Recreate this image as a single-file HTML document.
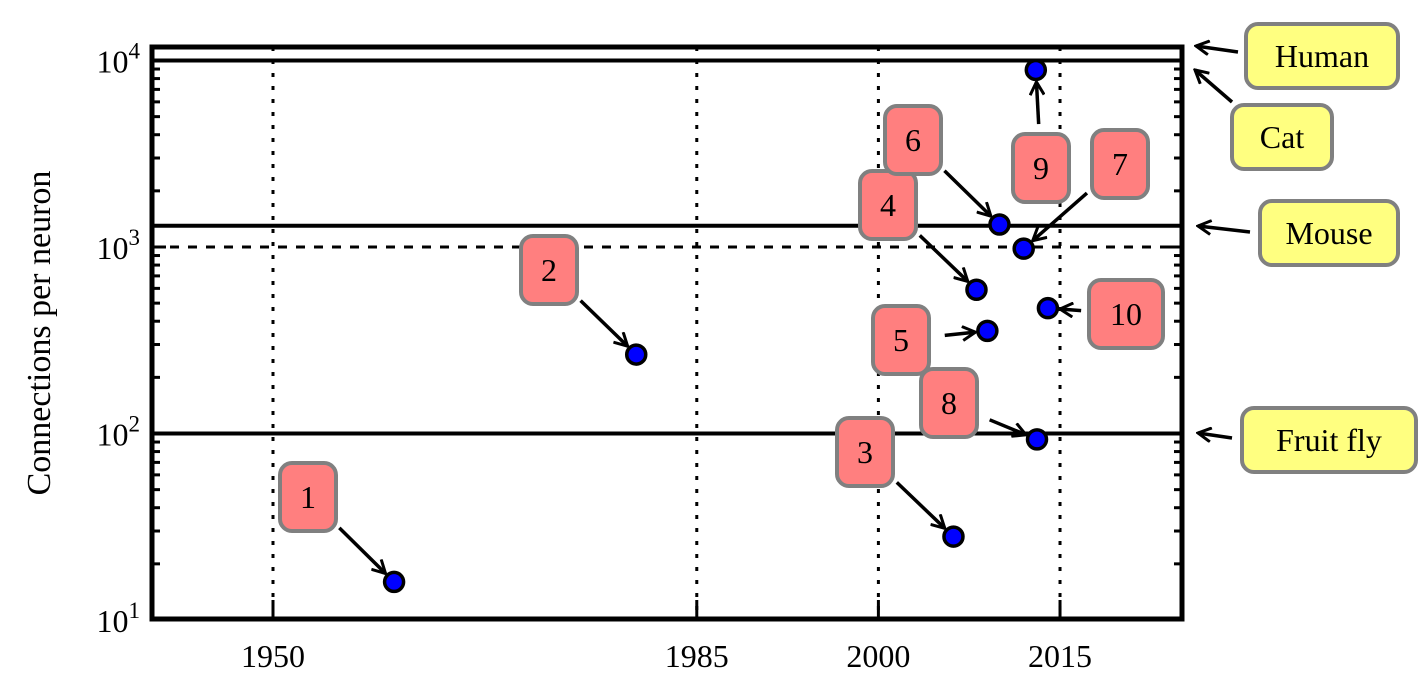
<!DOCTYPE html>
<html><head><meta charset="utf-8"><style>
body{margin:0;background:#fff;}
svg{display:block;font-family:"Liberation Serif","DejaVu Serif",serif;}
</style></head><body>
<svg id="chart" width="1427" height="686" viewBox="0 0 1427 686">
<defs><marker id="ah" viewBox="0 0 16 16" refX="14" refY="8" markerWidth="16" markerHeight="16" markerUnits="userSpaceOnUse" orient="auto"><path d="M1,1 L14,8 L1,15" fill="none" stroke="#000" stroke-width="3"/></marker></defs>
<g id="grid"></g><g id="ticks"></g><g id="hlines"></g><g id="annots"></g><g id="points"></g>
<rect x="152" y="47" width="1030" height="572" fill="none" stroke="#000" stroke-width="5"/>
<text transform="translate(50,333) rotate(-90)" text-anchor="middle" font-size="34">Connections per neuron</text>
<g id="labels"></g>
</svg>
<script>
const years = [1960, 1980, 2006.2, 2008.1, 2009, 2010, 2012, 2013.1, 2013, 2014];
const conns = [16, 265, 28, 590, 355, 1320, 980, 93, 8900, 470];
const pointIds = ["1","2","3","4","5","6","7","8","9","10"];
const labelPos = [[308,497],[549,270],[865,452],[888,205],[901,340],[913,140],[1120,164],[949,403],[1041,168],[1126,314]];
const xTicks = [1950, 1985, 2000, 2015];
const yTicks = [10, 100, 1000, 10000];
const yTickLabels = ["1", "2", "3", "4"];
const species = ["Human", "Cat", "Mouse", "Fruit fly"];
const speciesVals = [12000, 10000, 1300, 100];
const NS="http://www.w3.org/2000/svg";
const X0=1950,PX0=273,PPY=12.108;
function sx(y){return PX0+(y-X0)*PPY;}
function sy(v){return 620-(Math.log10(v)-1)*186.5;}
function mk(tag,attrs,parent){const e=document.createElementNS(NS,tag);for(const k in attrs)e.setAttribute(k,attrs[k]);parent.appendChild(e);return e;}
const grid=document.getElementById('grid'),ticks=document.getElementById('ticks'),hl=document.getElementById('hlines'),an=document.getElementById('annots'),pts=document.getElementById('points'),lab=document.getElementById('labels');
xTicks.forEach(t=>{
 const l=mk('line',{x1:sx(t),x2:sx(t),y1:47,y2:619,stroke:'#000','stroke-width':3,'stroke-dasharray':'4 9'},grid);
 
 
 const tt=mk('text',{x:sx(t),y:667,'text-anchor':'middle','font-size':32},ticks);tt.textContent=t;
 
 
 mk('line',{x1:sx(t),x2:sx(t),y1:619,y2:600,stroke:'#000','stroke-width':3},ticks);
});
const gl=mk('line',{x1:152,x2:1182,y1:sy(1000),y2:sy(1000),stroke:'#000','stroke-width':3,'stroke-dasharray':'9 9'},grid);


yTicks.forEach((t,i)=>{
 const g=mk('text',{x:140,y:sy(t)+12,'text-anchor':'end','font-size':32},ticks);
 g.innerHTML='10<tspan dy="-14" font-size="23">'+yTickLabels[i]+'</tspan>';
 
 
 for(let m=2;m<=9&&t<10000;m++){const y=sy(t*m);
  mk('line',{x1:152,x2:160,y1:y,y2:y,stroke:'#000','stroke-width':3},ticks);
  mk('line',{x1:1174,x2:1182,y1:y,y2:y,stroke:'#000','stroke-width':3},ticks);}
 mk('line',{x1:152,x2:166,y1:sy(t),y2:sy(t),stroke:'#000','stroke-width':3},ticks);
 mk('line',{x1:1168,x2:1182,y1:sy(t),y2:sy(t),stroke:'#000','stroke-width':3},ticks);
});
const spBox=[[1322,56,152],[1282,137,100],[1329,233,138],[1329,440,174]];
const spArrowFrom=[[1238,52],[1232,102],[1250,232],[1232,438]];
const spArrowTo=[[1196,46],[1195,70],[1198,226],[1198,433]];
species.forEach((s,i)=>{
 const y=sy(speciesVals[i]);
 if(i>0){const l=mk('line',{x1:152,x2:1182,y1:y,y2:y,stroke:'#000','stroke-width':4},hl);
 
 }
 const a=mk('line',{x1:spArrowFrom[i][0],y1:spArrowFrom[i][1],x2:spArrowTo[i][0],y2:spArrowTo[i][1],stroke:'#000','stroke-width':3.5,'marker-end':'url(#ah)'},an);
 
 
 const [cx,cy,w]=spBox[i];
 const r=mk('rect',{x:cx-w/2,y:cy-32,width:w,height:64,rx:12,fill:'#ffff80',stroke:'#808080','stroke-width':4},lab);
 
 
 const t=mk('text',{x:cx,y:cy+11,'text-anchor':'middle','font-size':32},lab);t.textContent=s;
 
 
});
years.forEach((yr,i)=>{
 const px=sx(yr),py=sy(conns[i]);
 const [lx,ly]=labelPos[i];const w=i==9?74:56;
 const dx=px-lx,dy=py-ly,d=Math.hypot(dx,dy);
 const sxo=Math.abs(dx)/d>0.9?w/2+8:(Math.abs(dy)/d>0.9?44:Math.min(w/2+12,50));
 const x1=lx+dx/d*Math.max(sxo,44),y1=ly+dy/d*Math.max(sxo,44);
 const x2=px-dx/d*12,y2=py-dy/d*12;
 const a=mk('line',{x1,y1,x2,y2,stroke:'#000','stroke-width':3.5,'marker-end':'url(#ah)'},an);
 
 
 const c=mk('circle',{cx:px,cy:py,r:9.5,fill:'#0000ff',stroke:'#000','stroke-width':3.5},pts);
 
 
 const r=mk('rect',{x:lx-w/2,y:ly-34,width:w,height:68,rx:12,fill:'#ff7f7f',stroke:'#808080','stroke-width':4},lab);
 
 
 const t=mk('text',{x:lx,y:ly+11,'text-anchor':'middle','font-size':32},lab);t.textContent=pointIds[i];
 
 
});
</script>
</body></html>
